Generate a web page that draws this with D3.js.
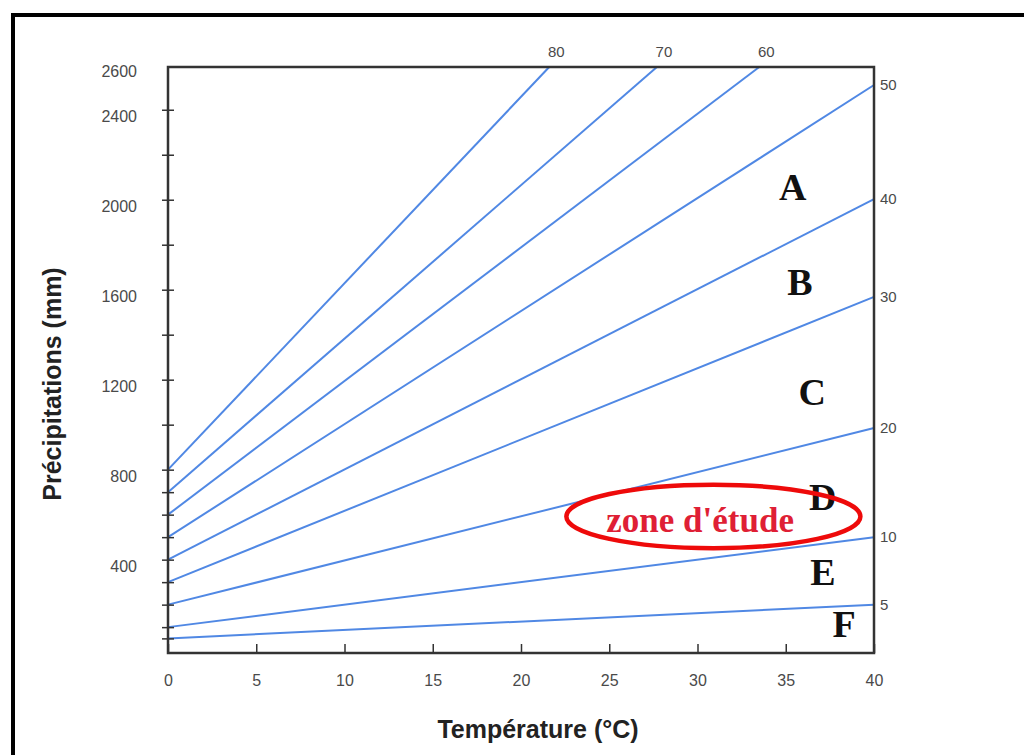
<!DOCTYPE html>
<html>
<head>
<meta charset="utf-8">
<script src="https://cdn.jsdelivr.net/npm/d3@7"></script>
<style>
  body { margin: 0; background: #fff; }
  svg { display: block; }
  .tick text { font-family: "Liberation Sans", Arial, sans-serif; font-size: 16px; fill: #4a4a4a; }
  .title { font-family: "Liberation Sans", Arial, sans-serif; font-weight: bold; font-size: 25px; fill: #222; text-anchor: middle; }
  .zone { font-family: "Liberation Serif", "Times New Roman", serif; font-weight: bold; font-size: 38px; fill: #111; text-anchor: middle; }
  .idx { font-family: "Liberation Sans", Arial, sans-serif; font-size: 15px; fill: #4a4a4a; }
</style>
</head>
<body>
<svg width="1024" height="755"></svg>
<script>
// **** Data ****
// De Martonne index lines: value, start (T=0) and end point
var indexValues = [80, 70, 60, 50, 40, 30, 20, 10, 5];
var startP = [800, 700, 600, 500, 400, 300, 200, 100, 50];
var endT = [21.6, 27.7, 33.5, 40, 40, 40, 40, 40, 40];
var endP = [2590, 2590, 2590, 2510, 2003, 1568, 985, 500, 200];

var xTicks = [0, 5, 10, 15, 20, 25, 30, 35, 40];
var yTickMarks = [50, 100, 200, 300, 400, 500, 600, 700, 800, 1000, 1200, 1400, 1600, 1800, 2000, 2200, 2400];
var yTickLabels = [400, 800, 1200, 1600, 2000, 2400, 2600];

// climate zones
var zoneNames = ['A', 'B', 'C', 'D', 'E', 'F'];
var zoneT = [35.4, 35.8, 36.5, 37.1, 37.1, 38.3];
var zoneP = [2000, 1576, 1087, 621, 287, 56];

// study area
var studyLabel = "zone d'étude";
var studyT = 30.9, studyP = 592, studyHalfT = 8.33, studyHalfP = 141;

// **** Scales ****
var xScale = d3.scaleLinear().domain([0, 40]).range([168, 874]);
var yScale = d3.scaleLinear().domain([-15, 2590]).range([653, 67]);

var svg = d3.select('svg');

// outer black frame of the figure
svg.append('path')
    .attr('d', 'M13,755 L13,15 L1024,15')
    .attr('fill', 'none')
    .attr('stroke', '#000')
    .attr('stroke-width', 4);

// **** Lines ****
var lines = indexValues.map(function(v, i) {
    return { value: v, pts: [[0, startP[i]], [endT[i], endP[i]]] };
});

var lineGen = d3.line()
    .x(function(d) { return xScale(d[0]); })
    .y(function(d) { return yScale(d[1]); });

svg.append('g').selectAll('path').data(lines).enter().append('path')
    .attr('d', function(d) { return lineGen(d.pts); })
    .attr('fill', 'none')
    .attr('stroke', '#5088e4')
    .attr('stroke-width', 2);

// index labels, on top or at right end
svg.append('g').selectAll('text').data(lines).enter().append('text')
    .attr('class', 'idx')
    .attr('x', function(d) {
        return d.pts[1][0] < 40 ? xScale(d.pts[1][0]) + 7 : xScale(40) + 6;
    })
    .attr('y', function(d) {
        return d.pts[1][0] < 40 ? yScale(2590) - 15 : yScale(d.pts[1][1]);
    })
    .attr('dy', '0.35em')
    .attr('text-anchor', function(d) { return d.pts[1][0] < 40 ? 'middle' : 'start'; })
    .text(function(d) { return d.value; });

// **** Axes ****
svg.append('g').attr('class', 'x axis')
    .attr('transform', 'translate(0,653)')
    .call(d3.axisBottom(xScale).tickValues(xTicks).tickSizeInner(-9).tickSizeOuter(0).tickPadding(22))
    .call(function(g) {
        g.select('.domain').remove();
        g.selectAll('.tick line').attr('stroke', '#333').attr('stroke-width', 1.5);
    });

svg.append('g').attr('class', 'y axis')
    .attr('transform', 'translate(168,0)')
    .call(d3.axisLeft(yScale).tickValues(yTickMarks).tickSizeInner(6).tickSizeOuter(0).tickFormat(''))
    .call(function(g) {
        g.select('.domain').remove();
        g.selectAll('.tick line').attr('x1', 6).attr('stroke', '#333').attr('stroke-width', 1.5);
    });

svg.append('g').attr('class', 'y axis')
    .attr('transform', 'translate(168,0)')
    .call(d3.axisLeft(yScale).tickValues(yTickLabels).tickSize(0).tickPadding(31).tickFormat(d3.format('d')))
    .call(function(g) {
        g.select('.domain').remove();
        g.selectAll('.tick text').attr('dy', '0.75em');
    });

// plot frame
svg.append('rect')
    .attr('x', xScale(0))
    .attr('y', yScale(2590))
    .attr('width', xScale(40) - xScale(0))
    .attr('height', yScale(-15) - yScale(2590))
    .attr('fill', 'none')
    .attr('stroke', '#333')
    .attr('stroke-width', 2.5);

// **** Zone letters ****
svg.append('g').selectAll('text').data(zoneNames).enter().append('text')
    .attr('class', 'zone')
    .attr('x', function(d, i) { return xScale(zoneT[i]); })
    .attr('y', function(d, i) { return yScale(zoneP[i]); })
    .text(function(d) { return d; });

// **** Study area ****
svg.append('ellipse')
    .attr('cx', xScale(studyT))
    .attr('cy', yScale(studyP))
    .attr('rx', xScale(studyT + studyHalfT) - xScale(studyT))
    .attr('ry', yScale(studyP - studyHalfP) - yScale(studyP))
    .attr('fill', 'none')
    .attr('stroke', '#ee0a0a')
    .attr('stroke-width', 4.5);

svg.append('text')
    .attr('class', 'zone')
    .attr('x', xScale(30.15))
    .attr('y', yScale(523))
    .style('font-size', '35px')
    .style('fill', '#df1f35')
    .text(studyLabel);

// **** Axis titles ****
svg.append('text')
    .attr('class', 'title')
    .attr('transform', 'translate(61,384) rotate(-90)')
    .text('Précipitations (mm)');

svg.append('text')
    .attr('class', 'title')
    .attr('x', 538)
    .attr('y', 738)
    .text('Température (°C)');
</script>
</body>
</html>
